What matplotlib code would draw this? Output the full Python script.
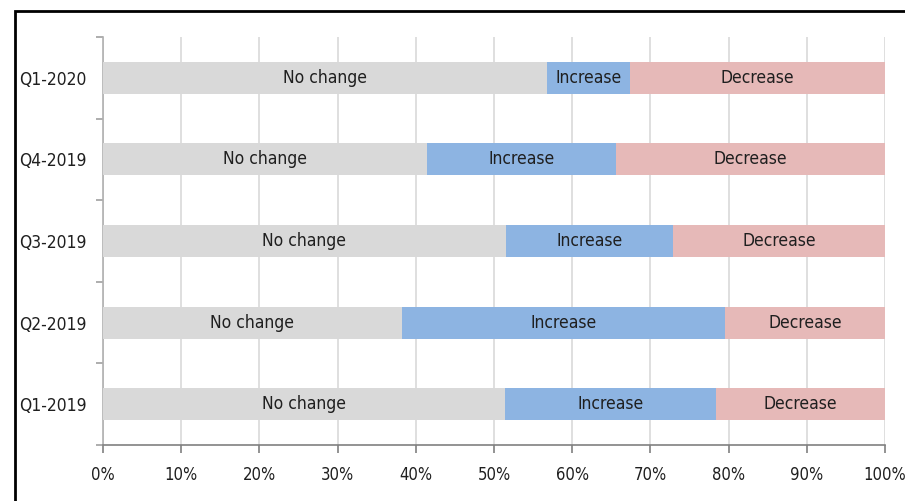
import matplotlib
matplotlib.use("Agg")
import matplotlib.pyplot as plt
from matplotlib.patches import Rectangle
import numpy as np

categories = ["Q1-2019", "Q2-2019", "Q3-2019", "Q4-2019", "Q1-2020"]
no_change = [51.4, 38.2, 51.5, 41.4, 56.8]
increase = [27.0, 41.3, 21.4, 24.2, 10.6]
decrease = [21.6, 20.5, 27.1, 34.4, 32.6]
series_names = ["No change", "Increase", "Decrease"]
colors = ["#D9D9D9", "#8DB4E2", "#E6B9B8"]
xticks = [0, 10, 20, 30, 40, 50, 60, 70, 80, 90, 100]
xtick_labels = [f"{v}%" for v in xticks]

plt.rcParams["font.family"] = ["DejaVu Sans"]
plt.rcParams["font.stretch"] = "condensed"

fig = plt.figure(figsize=(9.05, 5.01), dpi=100)
ax = fig.add_axes([103/905, 1-445/501, (885-103)/905, (445-37)/501])

y = np.arange(len(categories))
left = np.zeros(len(categories))
for name, vals, col in zip(series_names, [no_change, increase, decrease], colors):
    vals = np.array(vals)
    ax.barh(y, vals, left=left, height=0.39, color=col, zorder=3)
    for yi, l, v in zip(y, left, vals):
        ax.text(l + v/2, yi, name, ha="center", va="center", fontsize=12.5,
                color="#1f1f1f", zorder=4, fontstretch="condensed")
    left = left + vals

ax.set_xlim(0, 100)
ax.set_ylim(-0.5, len(categories) - 0.5)
ax.set_xticks(xticks)
ax.set_xticklabels(xtick_labels, fontsize=12, color="#1f1f1f", fontstretch="condensed")
ax.set_yticks(y)
ax.set_yticklabels(categories, fontsize=12.5, color="#1f1f1f", fontstretch="condensed")
ax.tick_params(axis="y", length=0, pad=12)
ax.set_yticks(np.arange(-0.5, len(categories)), minor=True)
ax.tick_params(axis="y", which="minor", length=5, color="#A0A0A0", width=1.2)
ax.tick_params(axis="x", length=6, color="#808080", width=1.2, pad=9)

ax.grid(axis="x", color="#D9D9D9", linewidth=1.2, zorder=0)
for s in ["top", "right"]:
    ax.spines[s].set_visible(False)
ax.spines["left"].set_color("#B0B0B0")
ax.spines["left"].set_linewidth(1.2)
ax.spines["bottom"].set_color("#808080")
ax.spines["bottom"].set_linewidth(1.2)

fig.patches.append(Rectangle((15/905, -0.1), 1.2, 1.1 - 11/501,
                             transform=fig.transFigure, fill=False,
                             edgecolor="black", linewidth=2, zorder=10))

fig.savefig("out.png", dpi=100)
